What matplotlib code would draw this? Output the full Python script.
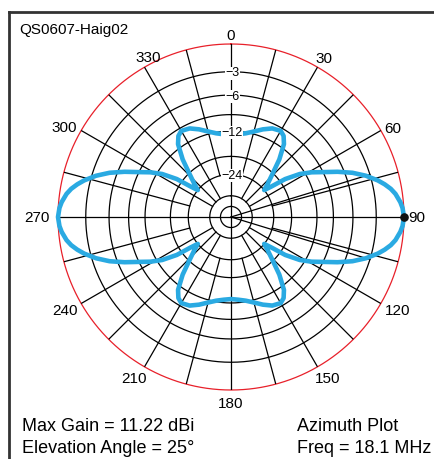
import numpy as np
import matplotlib
matplotlib.use("Agg")
import matplotlib.pyplot as plt
from matplotlib.lines import Line2D

plt.rcParams['font.family'] = ['Liberation Sans', 'DejaVu Sans']

# ---- data ----
title = "QS0607-Haig02"
max_gain_text = "Max Gain = 11.22 dBi"
elev_text = "Elevation Angle = 25\u00b0"
plot_type = "Azimuth Plot"
freq_text = "Freq = 18.1 MHz"

# azimuth (deg) and relative gain (dB below max)
azimuth = [0, 5, 10, 15, 20, 25, 30, 33, 36, 40, 44, 48, 51, 53, 55, 58, 61, 64, 67, 70, 73, 76, 78, 80, 82, 85, 87, 90,
           93, 95, 98, 100, 102, 104, 107, 110, 113, 116, 119, 122, 125, 127, 129, 132, 136, 140, 144, 147, 150,
           155, 160, 165, 170, 175, 180,
           185, 190, 195, 200, 205, 210, 213, 216, 220, 224, 228, 231, 233, 235, 238, 241, 244, 247, 250, 253,
           256, 258, 260, 262, 265, 267, 270,
           273, 275, 278, 280, 282, 284, 287, 290, 293, 296, 299, 302, 305, 307, 309, 312, 316, 320, 324, 327,
           330, 335, 340, 345, 350, 355, 360]
rel_gain = [-12.8, -12.6, -12.2, -11.5, -10.6, -9.8, -9.5, -10.0, -11.2, -14.3, -18.3, -21.6, -24.0, -21.0, -16.5,
            -13.0, -10.8, -9.0, -6.9, -5.0, -3.5, -2.3, -1.65, -1.1, -0.7, -0.3, -0.12, 0.0,
            -0.12, -0.3, -0.7, -1.1, -1.65, -2.3, -3.5, -5.0, -6.9, -9.0, -10.8, -13.0, -16.5, -21.0, -24.0, -21.6,
            -18.3, -14.3, -11.2, -10.0, -9.5, -9.8, -10.6, -11.5, -12.2, -12.6, -12.8,
            -12.6, -12.2, -11.5, -10.6, -9.8, -9.5, -10.0, -11.2, -14.3, -18.3, -21.6, -24.0, -21.0, -16.5,
            -13.0, -10.8, -9.0, -6.9, -5.0, -3.5, -2.3, -1.65, -1.1, -0.7, -0.3, -0.12, 0.0,
            -0.12, -0.3, -0.7, -1.1, -1.65, -2.3, -3.5, -5.0, -6.9, -9.0, -10.8, -13.0, -16.5, -21.0, -24.0, -21.6,
            -18.3, -14.3, -11.2, -10.0, -9.5, -9.8, -10.6, -11.5, -12.2, -12.6, -12.8]

ring_levels = [0, -3, -6, -9, -12, -18, -24, -36, -48]
ring_labels = {-3: "\u22123", -6: "\u22126", -12: "\u221212", -24: "\u221224"}
angle_labels = [0, 30, 60, 90, 120, 150, 180, 210, 240, 270, 300, 330]
beam_lines = [73, 107]
max_dir = 90

# label placement (angle deg, distance px from centre) -- layout only
label_place = {0: (0, 183), 30: (30.2, 185), 60: (60.9, 185), 90: (90, 186), 120: (119.1, 191),
               150: (148.9, 188), 180: (180, 186), 210: (211.1, 188), 240: (240.7, 190), 270: (270, 194),
               300: (298.3, 190), 330: (332.6, 181)}


def arrl(db):
    return 0.89 ** (np.abs(np.asarray(db, dtype=float)) / 2.0)


W, H = 435, 459
fig = plt.figure(figsize=(W / 100, H / 100), dpi=100)
cx, cy, R = 231, 217, 173
ax = fig.add_axes([(cx - R) / W, (H - cy - R) / H, 2 * R / W, 2 * R / H], projection='polar')
ax.set_theta_zero_location('N')
ax.set_theta_direction(-1)
ax.set_ylim(0, 1)
ax.axis('off')

th = np.linspace(0, 2 * np.pi, 721)
for lv in ring_levels:
    col = '#e8202a' if lv == 0 else 'black'
    ax.plot(th, np.full_like(th, arrl(lv)), color=col, lw=0.9, zorder=1, clip_on=False)

for a in range(0, 360, 15):
    if a % 90 == 0:
        r0 = 0.0
    elif a % 45 == 0 or a % 30 == 0:
        r0 = arrl(-36)
    else:
        r0 = arrl(-24)
    ax.plot([np.radians(a)] * 2, [r0, 1.0], color='black', lw=0.9, zorder=1)

for b in beam_lines:
    ax.plot([np.radians(b)] * 2, [0, arrl(-3)], color='black', lw=0.9, zorder=1)

for lv, txt in ring_labels.items():
    ax.text(0.012, arrl(lv), txt, ha='center', va='center_baseline', fontsize=9, zorder=5,
            bbox=dict(facecolor='white', edgecolor='none', pad=0.3))

for a in angle_labels:
    t, d = label_place[a]
    ax.text(np.radians(t), d / R, str(a), ha='center', va='center_baseline', fontsize=11)

ax.plot(np.radians(azimuth), arrl(rel_gain), color='#2aaae2', lw=3.3, zorder=3,
        solid_joinstyle='round', solid_capstyle='round', clip_on=False)
ax.plot([np.radians(max_dir)], [1.0], 'o', color='#111111', ms=5.2, zorder=4, clip_on=False)

# frame
fig.add_artist(Line2D([9 / W, 9 / W], [0, 1 - 12 / H], transform=fig.transFigure, color='#333333', lw=2))
fig.add_artist(Line2D([9 / W, 1], [1 - 12 / H, 1 - 12 / H], transform=fig.transFigure, color='#333333', lw=2))

fig.text(19 / W, 1 - 34 / H, title, fontsize=11, va='baseline')
fig.text(22 / W, 1 - 431 / H, max_gain_text, fontsize=13, va='baseline')
fig.text(22 / W, 1 - 453 / H, elev_text, fontsize=13, va='baseline')
fig.text(297 / W, 1 - 431 / H, plot_type, fontsize=13, va='baseline')
fig.text(297 / W, 1 - 453 / H, freq_text, fontsize=13, va='baseline')

fig.savefig('out.png', dpi=100, facecolor='white')
